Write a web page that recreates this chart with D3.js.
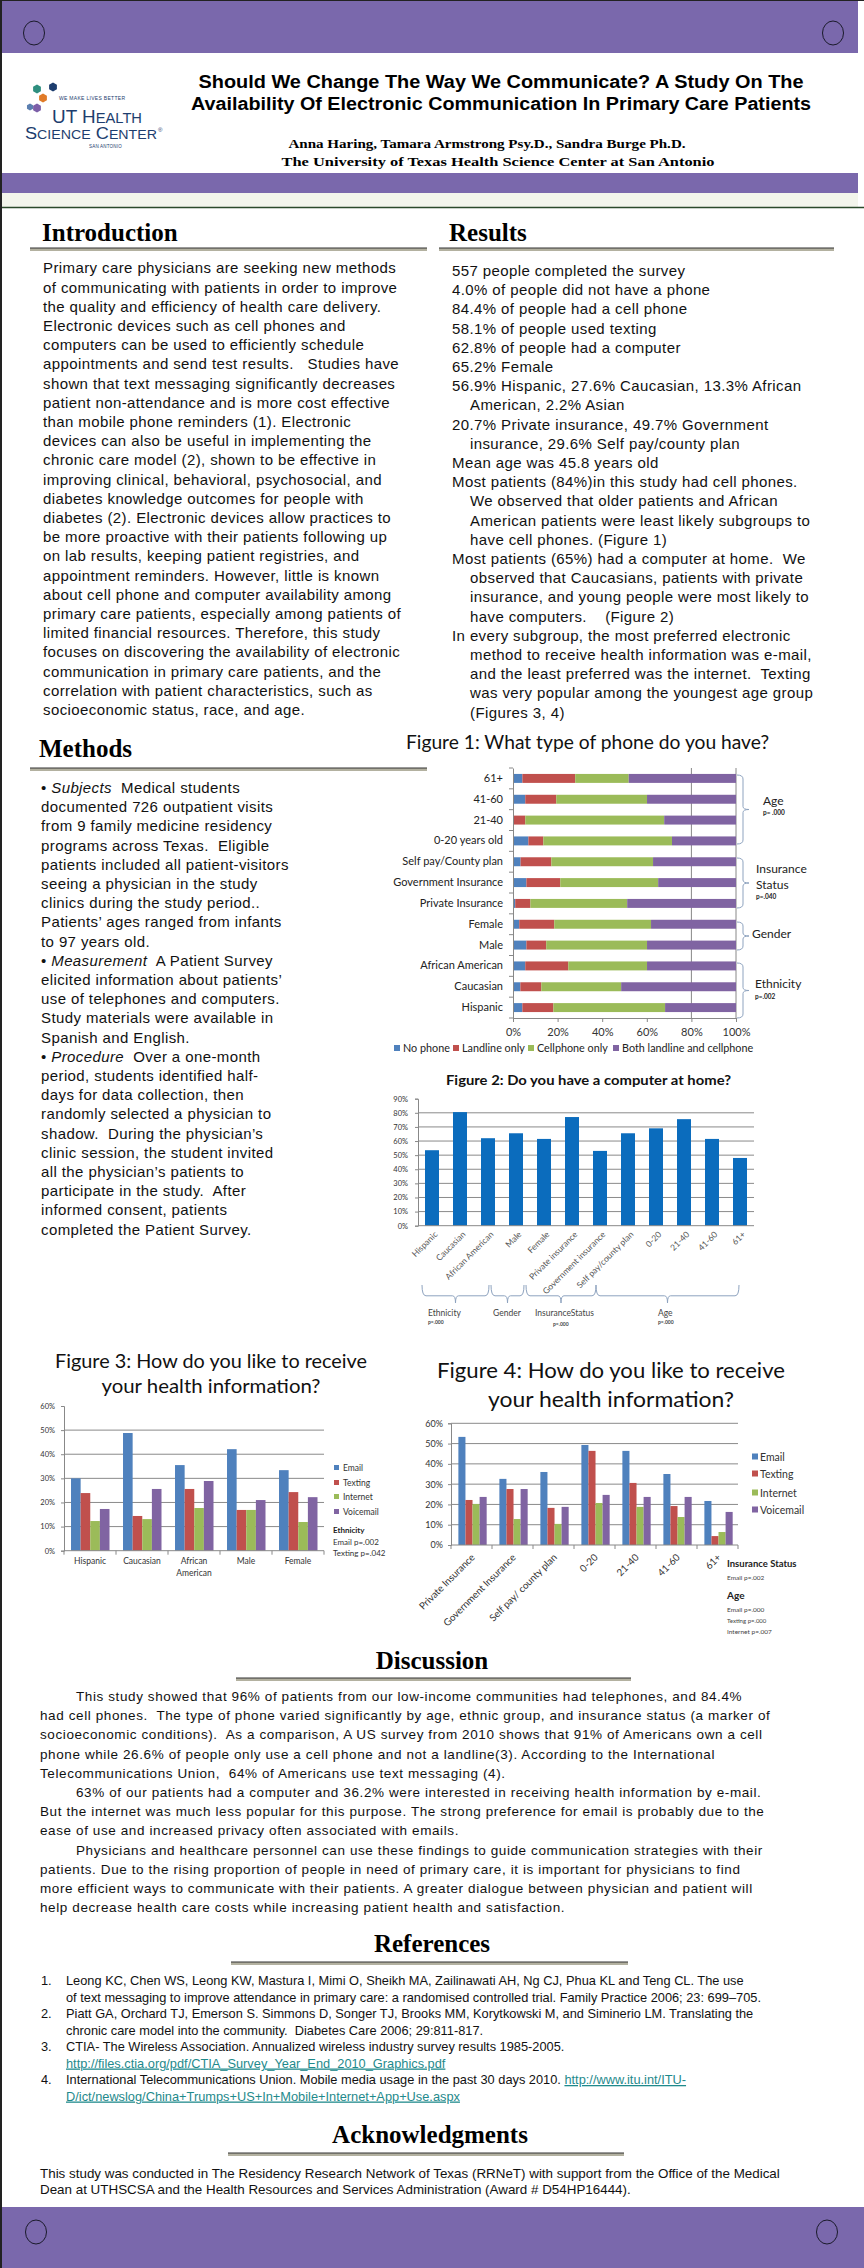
<!DOCTYPE html>
<html><head><meta charset="utf-8">
<script src="https://cdn.jsdelivr.net/npm/d3@7"></script>
<style>
html,body{margin:0;padding:0;background:#fff;}
svg{display:block;}
text{white-space:pre;}
</style></head>
<body>
<svg id="poster" width="864" height="2268"></svg>
<script>
// ---------------- DATA ----------------
const fig1Categories = ["61+","41-60","21-40","0-20 years old","Self pay/County plan","Government Insurance","Private Insurance","Female","Male","African American","Caucasian","Hispanic"];
const fig1Series = ["No phone","Landline only","Cellphone only","Both landline and cellphone"];
const fig1NoPhone   = [4.2, 5.5, 0.3, 6.9, 3.4, 6.0, 1.0, 2.8, 6.0, 5.5, 3.3, 4.2];
const fig1Landline  = [23.7,13.9, 5.2, 6.7,13.8,15.2, 6.8,15.7, 8.9,19.3, 9.4,13.9];
const fig1Cellphone = [24.0,40.7,62.3,57.7,45.6,43.9,43.4,43.4,45.2,35.3,35.8,50.1];
const fig1Both      = [48.1,39.9,32.2,28.7,37.2,34.9,48.8,38.1,39.9,39.9,51.5,31.8];
const fig1Ticks = [0,20,40,60,80,100];

const fig2Categories = ["Hispanic","Caucasian","African American","Male","Female","Private insurance","Government insurance","Self pay/county plan","0-20","21-40","41-60","61+"];
const fig2Values = [53.5,80.5,62,65.5,61.5,77,53,65.5,69,75.5,61.5,48];
const fig2Ticks = [0,10,20,30,40,50,60,70,80,90];

const prefSeries = ["Email","Texting","Internet","Voicemail"];
const fig3Categories = ["Hispanic","Caucasian","African American","Male","Female"];
const fig3Email     = [30.0,48.8,35.5,42.1,33.4];
const fig3Texting   = [23.9,14.4,25.6,16.9,24.3];
const fig3Internet  = [12.3,13.1,17.7,16.9,11.9];
const fig3Voicemail = [17.3,25.6,28.9,21.0,22.2];
const fig3Ticks = [0,10,20,30,40,50,60];

const fig4Categories = ["Private Insurance","Government Insurance","Self pay/ county plan","0-20","21-40","41-60","61+"];
const fig4Email     = [53.3,32.6,36.0,49.3,46.4,35.0,21.7];
const fig4Texting   = [22.2,27.6,18.3,46.4,30.6,19.2,4.4];
const fig4Internet  = [20.2,12.8,10.4,20.7,18.8,13.8,6.4];
const fig4Voicemail = [23.7,27.6,18.8,24.7,23.7,23.7,16.3];
const fig4Ticks = [0,10,20,30,40,50,60];

// ---------------- TEXT ----------------
const introLines = [
"Primary care physicians are seeking new methods",
"of communicating with patients in order to improve",
"the quality and efficiency of health care delivery.",
"Electronic devices such as cell phones and",
"computers can be used to efficiently schedule",
"appointments and send test results.   Studies have",
"shown that text messaging significantly decreases",
"patient non-attendance and is more cost effective",
"than mobile phone reminders (1). Electronic",
"devices can also be useful in implementing the",
"chronic care model (2), shown to be effective in",
"improving clinical, behavioral, psychosocial, and",
"diabetes knowledge outcomes for people with",
"diabetes (2). Electronic devices allow practices to",
"be more proactive with their patients following up",
"on lab results, keeping patient registries, and",
"appointment reminders. However, little is known",
"about cell phone and computer availability among",
"primary care patients, especially among patients of",
"limited financial resources. Therefore, this study",
"focuses on discovering the availability of electronic",
"communication in primary care patients, and the",
"correlation with patient characteristics, such as",
"socioeconomic status, race, and age."];

const resultLines = [
["557 people completed the survey",0],
["4.0% of people did not have a phone",0],
["84.4% of people had a cell phone",0],
["58.1% of people used texting",0],
["62.8% of people had a computer",0],
["65.2% Female",0],
["56.9% Hispanic, 27.6% Caucasian, 13.3% African",0],
["American, 2.2% Asian",1],
["20.7% Private insurance, 49.7% Government",0],
["insurance, 29.6% Self pay/county plan",1],
["Mean age was 45.8 years old",0],
["Most patients (84%)in this study had cell phones.",0],
["We observed that older patients and African",1],
["American patients were least likely subgroups to",1],
["have cell phones. (Figure 1)",1],
["Most patients (65%) had a computer at home.  We",0],
["observed that Caucasians, patients with private",1],
["insurance, and young people were most likely to",1],
["have computers.    (Figure 2)",1],
["In every subgroup, the most preferred electronic",0],
["method to receive health information was e-mail,",1],
["and the least preferred was the internet.  Texting",1],
["was very popular among the youngest age group",1],
["(Figures 3, 4)",1]];

const methodLines = [
[["• ",0],["Subjects",1],["  Medical students",0]],
[["documented 726 outpatient visits",0]],
[["from 9 family medicine residency",0]],
[["programs across Texas.  Eligible",0]],
[["patients included all patient-visitors",0]],
[["seeing a physician in the study",0]],
[["clinics during the study period..",0]],
[["Patients’ ages ranged from infants",0]],
[["to 97 years old.",0]],
[["• ",0],["Measurement",1],["  A Patient Survey",0]],
[["elicited information about patients’",0]],
[["use of telephones and computers.",0]],
[["Study materials were available in",0]],
[["Spanish and English.",0]],
[["• ",0],["Procedure",1],["  Over a one-month",0]],
[["period, students identified half-",0]],
[["days for data collection, then",0]],
[["randomly selected a physician to",0]],
[["shadow.  During the physician’s",0]],
[["clinic session, the student invited",0]],
[["all the physician’s patients to",0]],
[["participate in the study.  After",0]],
[["informed consent, patients",0]],
[["completed the Patient Survey.",0]]];

const discussionLines = [
["This study showed that 96% of patients from our low-income communities had telephones, and 84.4%",1],
["had cell phones.  The type of phone varied significantly by age, ethnic group, and insurance status (a marker of",0],
["socioeconomic conditions).  As a comparison, A US survey from 2010 shows that 91% of Americans own a cell",0],
["phone while 26.6% of people only use a cell phone and not a landline(3). According to the International",0],
["Telecommunications Union,  64% of Americans use text messaging (4).",0],
["63% of our patients had a computer and 36.2% were interested in receiving health information by e-mail.",1],
["But the internet was much less popular for this purpose. The strong preference for email is probably due to the",0],
["ease of use and increased privacy often associated with emails.",0],
["Physicians and healthcare personnel can use these findings to guide communication strategies with their",1],
["patients. Due to the rising proportion of people in need of primary care, it is important for physicians to find",0],
["more efficient ways to communicate with their patients. A greater dialogue between physician and patient will",0],
["help decrease health care costs while increasing patient health and satisfaction.",0]];

const refLines = [
["1.",[["Leong KC, Chen WS, Leong KW, Mastura I, Mimi O, Sheikh MA, Zailinawati AH, Ng CJ, Phua KL and Teng CL. The use",0]]],
["",[["of text messaging to improve attendance in primary care: a randomised controlled trial. Family Practice 2006; 23: 699–705.",0]]],
["2.",[["Piatt GA, Orchard TJ, Emerson S. Simmons D, Songer TJ, Brooks MM, Korytkowski M, and Siminerio LM. Translating the",0]]],
["",[["chronic care model into the community.  Diabetes Care 2006; 29:811-817.",0]]],
["3.",[["CTIA- The Wireless Association. Annualized wireless industry survey results 1985-2005.",0]]],
["",[["http://files.ctia.org/pdf/CTIA_Survey_Year_End_2010_Graphics.pdf",1]]],
["4.",[["International Telecommunications Union. Mobile media usage in the past 30 days 2010. ",0],["http://www.itu.int/ITU-",1]]],
["",[["D/ict/newslog/China+Trumps+US+In+Mobile+Internet+App+Use.aspx",1]]]];

const ackLines = [
"This study was conducted in The Residency Research Network of Texas (RRNeT) with support from the Office of the Medical",
"Dean at UTHSCSA and the Health Resources and Services Administration (Award # D54HP16444)."];

// ---------------- DRAW ----------------
const svg = d3.select("#poster");
const PURPLE = "#7a68ac";
const SANS = "'Liberation Sans', Arial, sans-serif";
const SERIF = "'Liberation Serif', 'Times New Roman', serif";
const CAL = "Lato, 'Open Sans', sans-serif";
const COLORS4 = {"Email":"#4F81BD","Texting":"#C0504D","Internet":"#9BBB59","Voicemail":"#8064A2"};
const F1COL = ["#4F81BD","#C0504D","#9BBB59","#8064A2"];

// bands
svg.append("rect").attr("x",0).attr("y",0).attr("width",858).attr("height",53).attr("fill",PURPLE);
svg.append("rect").attr("x",0).attr("y",173).attr("width",858).attr("height",20).attr("fill",PURPLE);
svg.append("rect").attr("x",0).attr("y",193).attr("width",858).attr("height",14).attr("fill","#f3f5ec");
svg.append("line").attr("x1",0).attr("x2",864).attr("y1",207.5).attr("y2",207.5).attr("stroke","#2b4a2b").attr("stroke-width",1.3);
svg.append("rect").attr("x",0).attr("y",2207).attr("width",864).attr("height",61).attr("fill",PURPLE);
[[34,33],[833,33],[36,2232],[827,2232]].forEach(([cx,cy])=>{
  svg.append("ellipse").attr("cx",cx).attr("cy",cy).attr("rx",10.5).attr("ry",12).attr("fill","none").attr("stroke","#1a1a2a").attr("stroke-width",1);
});
svg.append("line").attr("x1",1).attr("x2",1).attr("y1",0).attr("y2",2268).attr("stroke","#222").attr("stroke-width",2);
svg.append("line").attr("x1",0).attr("x2",864).attr("y1",0.5).attr("y2",0.5).attr("stroke","#222").attr("stroke-width",1);

// logo
const logo = svg.append("g");
[[30,107,3.5,"#5b7fb0"],[37,108,4.5,"#7c5fa8"],[43,98,4.5,"#e07b28"],[37,89,4.5,"#2f8f7f"],[53,87,4.5,"#1d3d6e"]].forEach(([x,y,r,c])=>{
  const pts = d3.range(6).map(i=>[x+r*Math.cos(Math.PI/3*i+Math.PI/6), y+r*Math.sin(Math.PI/3*i+Math.PI/6)]);
  logo.append("path").attr("d","M"+pts.join("L")+"Z").attr("fill",c);
});
logo.append("text").attr("x",59).attr("y",100).attr("font-family",SANS).attr("font-size",5).attr("fill","#1d3d6e").attr("letter-spacing",0.3).text("WE MAKE LIVES BETTER");
logo.append("text").attr("x",52).attr("y",123).attr("font-family",SANS).attr("font-size",18).attr("fill","#1d3d6e").attr("textLength",90).attr("lengthAdjust","spacingAndGlyphs")
  .html('UT H<tspan font-size="14">EALTH</tspan>');
logo.append("text").attr("x",25).attr("y",139).attr("font-family",SANS).attr("font-size",16).attr("fill","#1d3d6e").attr("textLength",132).attr("lengthAdjust","spacingAndGlyphs")
  .html('S<tspan font-size="12.5">CIENCE</tspan> C<tspan font-size="12.5">ENTER</tspan>');
logo.append("text").attr("x",158).attr("y",132).attr("font-family",SANS).attr("font-size",6).attr("fill","#1d3d6e").text("®");
logo.append("text").attr("x",89).attr("y",148).attr("font-family",SANS).attr("font-size",4.5).attr("fill","#1d3d6e").attr("letter-spacing",0.2).text("SAN ANTONIO");

// title
svg.append("text").attr("x",501).attr("y",88).attr("text-anchor","middle").attr("font-family",SANS).attr("font-weight","bold").attr("font-size",17.5)
  .attr("textLength",605).attr("lengthAdjust","spacingAndGlyphs").text("Should We Change The Way We Communicate? A Study On The");
svg.append("text").attr("x",501).attr("y",110).attr("text-anchor","middle").attr("font-family",SANS).attr("font-weight","bold").attr("font-size",17.5)
  .attr("textLength",620).attr("lengthAdjust","spacingAndGlyphs").text("Availability Of Electronic Communication In Primary Care Patients");
svg.append("text").attr("x",487).attr("y",148).attr("text-anchor","middle").attr("font-family",SERIF).attr("font-weight","bold").attr("font-size",13.5)
  .attr("textLength",397).attr("lengthAdjust","spacingAndGlyphs").text("Anna Haring, Tamara Armstrong Psy.D., Sandra Burge Ph.D.");
svg.append("text").attr("x",498).attr("y",166).attr("text-anchor","middle").attr("font-family",SERIF).attr("font-weight","bold").attr("font-size",13)
  .attr("textLength",433).attr("lengthAdjust","spacingAndGlyphs").text("The University of Texas Health Science Center at San Antonio");

// headings
function heading(txt,x,y,anchor,ux1,ux2,uy){
  svg.append("text").attr("x",x).attr("y",y).attr("text-anchor",anchor).attr("font-family",SERIF).attr("font-weight","bold").attr("font-size",25).attr("fill","#000").text(txt);
  svg.append("rect").attr("x",ux1).attr("y",uy).attr("width",ux2-ux1).attr("height",3).attr("fill","#b3b1a0");
  svg.append("line").attr("x1",ux1).attr("x2",ux2).attr("y1",uy).attr("y2",uy).attr("stroke","#333").attr("stroke-width",1);
}
heading("Introduction",42,241,"start",30,427,248);
heading("Results",449,241,"start",439,834,248);
heading("Methods",39,757,"start",30,427,768);
heading("Discussion",432,1669,"middle",236,631,1678);
heading("References",432,1952,"middle",231,628,1962);
heading("Acknowledgments",430,2143,"middle",228,624,2153);

function bodyText(x,y,size,ls){
  return svg.append("text").attr("x",x).attr("y",y).attr("font-family",SANS).attr("font-size",size).attr("letter-spacing",ls).attr("fill","#111");
}
introLines.forEach((l,i)=>bodyText(43,273.3+i*19.2,15,0.4).text(l));
resultLines.forEach(([l,ind],i)=>bodyText(ind?470:452,276+i*19.2,15,0.4).text(l));
methodLines.forEach((parts,i)=>{
  const t = bodyText(41,793+i*19.2,15,0.4);
  parts.forEach(([s,it])=>t.append("tspan").attr("font-style",it?"italic":"normal").text(s));
});
discussionLines.forEach(([l,ind],i)=>bodyText(ind?76:40,1701+i*19.2,13.5,0.6).text(l));
refLines.forEach(([num,parts],i)=>{
  const y = 1985+i*16.5;
  if(num) bodyText(41,y,12.8,0).text(num);
  const t = bodyText(66,y,12.8,0);
  parts.forEach(([s,link])=>{
    const ts = t.append("tspan").text(s);
    if(link) ts.attr("fill","#1f8a8c").attr("text-decoration","underline");
  });
});
ackLines.forEach((l,i)=>bodyText(40,2178+i*15.5,13.4,0).text(l));

// ---------------- FIGURE 1 ----------------
const g1 = svg.append("g");
g1.append("text").attr("x",406).attr("y",749).attr("font-family",CAL).attr("font-size",19.5).attr("fill","#111")
  .attr("textLength",363).attr("lengthAdjust","spacingAndGlyphs").text("Figure 1: What type of phone do you have?");
const f1x = d3.scaleLinear().domain([0,100]).range([513,736]);
const f1y = d3.scaleBand().domain(fig1Categories).range([768,1018]).paddingInner(0.57).paddingOuter(0.285);
const f1rows = fig1Categories.map((c,i)=>({cat:c,"No phone":fig1NoPhone[i],"Landline only":fig1Landline[i],"Cellphone only":fig1Cellphone[i],"Both landline and cellphone":fig1Both[i]}));
const f1stack = d3.stack().keys(fig1Series)(f1rows);
[80,100].forEach(v=>g1.append("line").attr("x1",f1x(v)).attr("x2",f1x(v)).attr("y1",768).attr("y2",1018).attr("stroke","#888").attr("stroke-width",1));
f1stack.forEach((s,si)=>{
  g1.append("g").selectAll("rect").data(s).join("rect")
    .attr("x",d=>f1x(d[0])).attr("width",d=>Math.max(0,f1x(d[1])-f1x(d[0])))
    .attr("y",d=>f1y(d.data.cat)).attr("height",f1y.bandwidth()).attr("fill",F1COL[si]);
});
const ax1 = g1.append("g").attr("transform","translate(0,1018)").call(d3.axisBottom(f1x).tickValues(fig1Ticks).tickFormat(d=>d+"%").tickSize(4).tickPadding(6));
ax1.selectAll("text").attr("font-family",CAL).attr("font-size",11).attr("fill","#333");
ax1.selectAll("line,path").attr("stroke","#888");
const ay1 = g1.append("g").attr("transform","translate(513,0)").call(d3.axisLeft(f1y).tickSize(0).tickPadding(10));
ay1.selectAll("text").attr("font-family",CAL).attr("font-size",11).attr("fill","#222");
ay1.select("path").attr("stroke","#888");
d3.range(fig1Categories.length+1).forEach(i=>{
  const y = 768 + i*f1y.step();
  g1.append("line").attr("x1",509).attr("x2",513).attr("y1",y).attr("y2",y).attr("stroke","#888");
});
fig1Series.forEach((s,i)=>{
  const xx = [394,453,528,613][i];
  g1.append("rect").attr("x",xx).attr("y",1045).attr("width",6).attr("height",6).attr("fill",F1COL[i]);
  g1.append("text").attr("x",xx+9).attr("y",1052).attr("font-family",CAL).attr("font-size",10.8).attr("fill","#222").text(s);
});
function vbrace(g,x,y1,y2,w){
  const ym=(y1+y2)/2;
  const p = `M${x},${y1} Q${x+w*0.5},${y1} ${x+w*0.5},${y1+4} L${x+w*0.5},${ym-3} Q${x+w*0.5},${ym} ${x+w},${ym} Q${x+w*0.5},${ym} ${x+w*0.5},${ym+3} L${x+w*0.5},${y2-4} Q${x+w*0.5},${y2} ${x},${y2}`;
  g.append("path").attr("d",p).attr("fill","none").attr("stroke","#8ea3bf").attr("stroke-width",1);
}
vbrace(g1,737,775,844,12);
vbrace(g1,737,858,908,12);
vbrace(g1,737,922,950,12);
vbrace(g1,737,963,1018,12);
function lab(g,x,y,t,size,bold,fam,fill){
  return g.append("text").attr("x",x).attr("y",y).attr("font-family",fam||CAL).attr("font-size",size).attr("font-weight",bold?"bold":"normal").attr("fill",fill||"#222").text(t);
}
lab(g1,763,805,"Age",12);
lab(g1,763,815,"p= .000",6.5,true);
lab(g1,756,873,"Insurance",12);
lab(g1,756,889,"Status",12);
lab(g1,756,899,"p=.040",6.5,true);
lab(g1,752,938,"Gender",12);
lab(g1,755,988,"Ethnicity",12);
lab(g1,755,999,"p=.002",6.5,true);

// ---------------- FIGURE 2 ----------------
const g2 = svg.append("g");
g2.append("text").attr("x",446).attr("y",1085).attr("font-family",CAL).attr("font-weight","bold").attr("font-size",13.5).attr("fill","#111")
  .attr("textLength",285).attr("lengthAdjust","spacingAndGlyphs").text("Figure 2: Do you have a computer at home?");
const f2x = d3.scaleBand().domain(fig2Categories).range([418,754]).paddingInner(0.5).paddingOuter(0.25);
const f2y = d3.scaleLinear().domain([0,90]).range([1225.7,1098.7]);
fig2Ticks.filter(v=>v>0&&v<90).forEach(v=>g2.append("line").attr("x1",418).attr("x2",754).attr("y1",f2y(v)).attr("y2",f2y(v)).attr("stroke","#8a8a8a"));
g2.selectAll("rect.b").data(fig2Values).join("rect").attr("class","b")
  .attr("x",(d,i)=>f2x(fig2Categories[i])).attr("width",f2x.bandwidth())
  .attr("y",d=>f2y(d)).attr("height",d=>f2y(0)-f2y(d)).attr("fill","#0b6cbd");
const ay2 = g2.append("g").attr("transform","translate(418,0)").call(d3.axisLeft(f2y).tickValues(fig2Ticks).tickFormat(d=>d+"%").tickSize(3).tickPadding(7));
ay2.selectAll("text").attr("font-family",CAL).attr("font-size",7.5).attr("fill","#333");
ay2.selectAll("line,path").attr("stroke","#888");
g2.append("line").attr("x1",418).attr("x2",754).attr("y1",1225.7).attr("y2",1225.7).attr("stroke","#888");
fig2Categories.forEach(c=>{
  const cx = f2x(c)+f2x.bandwidth()/2;
  g2.append("text").attr("transform",`translate(${cx+6},${1235}) rotate(-45)`).attr("text-anchor","end")
    .attr("font-family",CAL).attr("font-size",8.5).attr("fill","#555").text(c);
});
function hbrace(g,x1,x2,y,h){
  const xm=(x1+x2)/2;
  const p = `M${x1},${y} Q${x1},${y+h*0.6} ${x1+4},${y+h*0.6} L${xm-3},${y+h*0.6} Q${xm},${y+h*0.6} ${xm},${y+h} Q${xm},${y+h*0.6} ${xm+3},${y+h*0.6} L${x2-4},${y+h*0.6} Q${x2},${y+h*0.6} ${x2},${y}`;
  g.append("path").attr("d",p).attr("fill","none").attr("stroke","#8ea3bf").attr("stroke-width",1);
}
hbrace(g2,422,489,1285,18);
hbrace(g2,491,524,1285,18);
hbrace(g2,526,596,1285,18);
hbrace(g2,596,739,1285,18);
lab(g2,428,1316,"Ethnicity",8.5,false,CAL,"#444");
lab(g2,428,1324,"p=.000",5,true,CAL,"#444");
lab(g2,493,1316,"Gender",8.5,false,CAL,"#444");
lab(g2,535,1316,"InsuranceStatus",8.5,false,CAL,"#444");
lab(g2,553,1326,"p=.000",5,true,CAL,"#444");
lab(g2,658,1316,"Age",8.5,false,CAL,"#444");
lab(g2,658,1324,"p=.000",5,true,CAL,"#444");

// ---------------- FIGURE 3 / 4 (grouped) ----------------
function grouped(cfg){
  const g = svg.append("g");
  cfg.title.forEach(([t,y,w])=>g.append("text").attr("x",cfg.titleX).attr("y",y).attr("text-anchor","middle").attr("font-family",CAL).attr("font-size",cfg.titleSize).attr("fill","#111")
    .attr("textLength",w).attr("lengthAdjust","spacingAndGlyphs").text(t));
  const x0 = d3.scaleBand().domain(cfg.cats).range([cfg.x1,cfg.x2]);
  const x1 = d3.scaleBand().domain(prefSeries).range([x0.bandwidth()*cfg.inner[0], x0.bandwidth()*cfg.inner[1]]);
  const y = d3.scaleLinear().domain([0,60]).range([cfg.y0,cfg.y60]);
  cfg.grid.forEach(v=>g.append("line").attr("x1",cfg.x1).attr("x2",cfg.x2).attr("y1",y(v)).attr("y2",y(v)).attr("stroke","#8a8a8a"));
  const rows = cfg.cats.map((c,i)=>({cat:c,vals:prefSeries.map((s,j)=>({s:s,v:cfg.series[j][i]}))}));
  g.selectAll("g.grp").data(rows).join("g").attr("class","grp").attr("transform",d=>`translate(${x0(d.cat)},0)`)
    .selectAll("rect").data(d=>d.vals).join("rect")
    .attr("x",d=>x1(d.s)).attr("width",x1.bandwidth()).attr("y",d=>y(d.v)).attr("height",d=>y(0)-y(d.v)).attr("fill",d=>COLORS4[d.s]);
  const ay = g.append("g").attr("transform",`translate(${cfg.x1},0)`).call(d3.axisLeft(y).tickValues(cfg.ticks).tickFormat(d=>d+"%").tickSize(3).tickPadding(cfg.tp));
  ay.selectAll("text").attr("font-family",CAL).attr("font-size",cfg.tickSize).attr("fill","#333");
  ay.selectAll("line,path").attr("stroke","#888");
  g.append("line").attr("x1",cfg.x1).attr("x2",cfg.x2).attr("y1",y(0)).attr("y2",y(0)).attr("stroke","#888");
  d3.range(cfg.cats.length+1).forEach(i=>{const xx=cfg.x1+i*x0.step(); g.append("line").attr("x1",xx).attr("x2",xx).attr("y1",y(0)).attr("y2",y(0)+4).attr("stroke","#888");});
  return {g,x0,y};
}
const f3 = grouped({title:[["Figure 3: How do you like to receive",1368,312],["your health information?",1393,219]],titleX:211,titleSize:19,
  cats:fig3Categories,x1:64,x2:324,y0:1550.7,y60:1406,inner:[0.135,0.875],grid:[10,20,30,40,50],ticks:fig3Ticks,tickSize:7.5,tp:6,
  series:[fig3Email,fig3Texting,fig3Internet,fig3Voicemail]});
fig3Categories.forEach(c=>{
  const cx = f3.x0(c)+f3.x0.bandwidth()/2;
  const parts = c==="African American"?["African","American"]:[c];
  parts.forEach((p,k)=>lab(f3.g,cx,1564+k*12,p,8.5,false,CAL,"#333").attr("text-anchor","middle"));
});
prefSeries.forEach((s,i)=>{
  const yy=[1468,1483,1497,1512][i];
  f3.g.append("rect").attr("x",334).attr("y",yy-3).attr("width",5).attr("height",5).attr("fill",COLORS4[s]);
  lab(f3.g,343,yy+3,s,8.5,false,CAL,"#333");
});
lab(f3.g,333,1533,"Ethnicity",8,true,CAL,"#222");
lab(f3.g,333,1545,"Email p=.002",8,false,CAL,"#333");
lab(f3.g,333,1556,"Texting p=.042",8,false,CAL,"#333");

const f4 = grouped({title:[["Figure 4: How do you like to receive",1378,348],["your health information?",1407,246]],titleX:611,titleSize:21.5,
  cats:fig4Categories,x1:451,x2:738,y0:1545,y60:1423.3,inner:[0.18,0.87],grid:[10,20,30,40,50,60],ticks:fig4Ticks,tickSize:9,tp:5,
  series:[fig4Email,fig4Texting,fig4Internet,fig4Voicemail]});
fig4Categories.forEach(c=>{
  const cx = f4.x0(c)+f4.x0.bandwidth()/2;
  f4.g.append("text").attr("transform",`translate(${cx+4},${1558}) rotate(-45)`).attr("text-anchor","end")
    .attr("font-family",CAL).attr("font-size",9.8).attr("fill","#333").text(c);
});
prefSeries.forEach((s,i)=>{
  const yy=[1457,1474,1493,1510][i];
  f4.g.append("rect").attr("x",752).attr("y",yy-3.5).attr("width",6).attr("height",6).attr("fill",COLORS4[s]);
  lab(f4.g,760,yy+3.5,s,10.5,false,CAL,"#333");
});
lab(f4.g,727,1567,"Insurance Status",9.5,true,CAL,"#222");
lab(f4.g,727,1580,"Email p=.002",6.5,false,CAL,"#444");
lab(f4.g,727,1599,"Age",10,true,CAL,"#222");
lab(f4.g,727,1612,"Email p=.000",6.5,false,CAL,"#444");
lab(f4.g,727,1623,"Texting p=.000",6,false,CAL,"#444");
lab(f4.g,727,1634,"Internet p=.007",6.5,false,CAL,"#444");
</script>
</body></html>
